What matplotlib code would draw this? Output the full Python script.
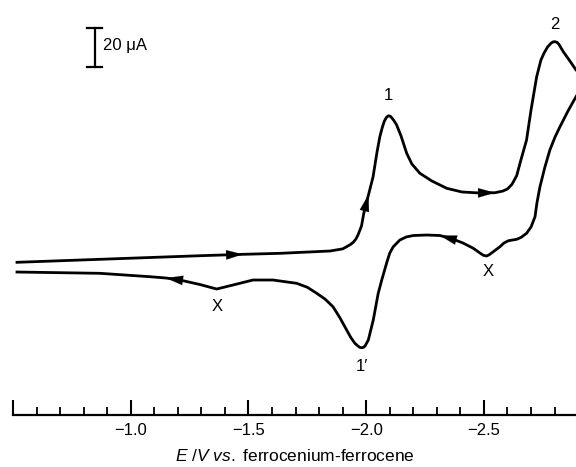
import matplotlib.pyplot as plt
import numpy as np
from matplotlib.ticker import MultipleLocator, FuncFormatter

plt.rcParams['font.family'] = ['Liberation Sans', 'DejaVu Sans']
plt.rcParams['mathtext.fontset'] = 'custom'
plt.rcParams['mathtext.it'] = 'Liberation Sans:italic'
plt.rcParams['mathtext.rm'] = 'Liberation Sans'

# forward sweep (upper trace), E in V vs Fc+/Fc, I in uA
E_fwd = [-0.517, -0.869, -1.294, -1.477, -1.634, -1.846, -1.900, -1.917, -1.932, -1.945,
         -1.956, -1.965, -1.980, -1.990, -2.003, -2.029, -2.046, -2.058, -2.068, -2.077,
         -2.086, -2.094, -2.102, -2.109, -2.119, -2.129, -2.148, -2.172, -2.194, -2.228,
         -2.279, -2.342, -2.407, -2.483, -2.547, -2.580, -2.600, -2.619, -2.639, -2.657,
         -2.681, -2.700, -2.724, -2.742, -2.756, -2.770, -2.785, -2.794, -2.802, -2.811,
         -2.819, -2.837, -2.865, -2.891, -2.933]
I_fwd = [1.41, 2.97, 4.84, 5.57, 6.09, 7.29, 8.40, 9.53, 10.60, 11.80,
         13.50, 15.60, 20.31, 27.08, 33.33, 45.83, 58.85, 66.82, 71.50, 74.90,
         76.90, 77.70, 77.50, 76.60, 75.00, 73.00, 67.18, 58.17, 52.60, 47.76,
         43.75, 39.95, 38.02, 37.50, 37.65, 38.50, 39.60, 42.00, 46.50, 54.68,
         65.10, 80.72, 98.07, 106.76, 110.50, 113.50, 115.50, 116.20, 116.30, 115.90,
         114.80, 111.09, 106.24, 101.56, 96.35]

# reverse sweep (lower trace)
E_rev = [-2.933, -2.891, -2.857, -2.823, -2.802, -2.780, -2.759, -2.738, -2.725, -2.717,
         -2.700, -2.681, -2.657, -2.639, -2.620, -2.603, -2.585, -2.568, -2.538, -2.522,
         -2.511, -2.497, -2.483, -2.455, -2.411, -2.370, -2.343, -2.313, -2.258, -2.200,
         -2.170, -2.143, -2.115, -2.100, -2.088, -2.066, -2.051, -2.030, -2.009, -1.995,
         -1.988, -1.981, -1.973, -1.965, -1.952, -1.935, -1.917, -1.889, -1.859, -1.825,
         -1.790, -1.750, -1.705, -1.604, -1.519, -1.434, -1.365, -1.294, -1.209, -1.150,
         -1.082, -0.869, -0.517]
I_rev = [96.35, 87.65, 80.20, 72.03, 66.66, 59.89, 51.04, 40.78, 32.29, 25.15,
         19.79, 16.51, 14.32, 13.38, 13.00, 12.60, 11.46, 9.53, 6.77, 5.30,
         4.69, 5.10, 6.25, 8.70, 11.46, 13.38, 14.43, 15.36, 15.62, 15.36,
         14.60, 13.02, 9.53, 6.20, 1.56, -7.81, -14.74, -28.64, -39.06, -42.18,
         -42.90, -43.07, -42.90, -42.18, -40.78, -37.80, -33.85, -27.60, -21.72, -17.71,
         -14.74, -11.60, -9.53, -7.81, -7.81, -10.42, -12.50, -10.16, -7.81, -6.77,
         -6.09, -4.32, -3.65]

# sweep direction arrows: (branch, E tail, E tip)
arrows = [('fwd', -1.405, -1.477), ('fwd', -1.992, -2.010), ('fwd', -2.475, -2.547),
          ('rev', -2.364, -2.313), ('rev', -1.209, -1.150)]

peak_labels = ['1', '2', '1\u2032', 'X', 'X']
peak_E = [-2.094, -2.802, -1.981, -1.366, -2.518]
peak_I = [88.5, 125.0, -53.0, -21.4, -3.5]

fig = plt.figure(figsize=(5.76, 4.67), dpi=100)
ax = fig.add_axes([13/576, 52/467, 1 - 13/576, 1 - 52/467])

ax.plot(E_fwd, I_fwd, color='black', lw=2.0, solid_joinstyle='round')
ax.plot(E_rev, I_rev, color='black', lw=2.0, solid_joinstyle='round')

for b, e0, e1 in arrows:
    if b == 'fwd':
        E, I = -np.array(E_fwd), np.array(I_fwd)
        i0, i1 = np.interp(-e0, E, I), np.interp(-e1, E, I)
    else:
        E, I = np.array(E_rev), np.array(I_rev)
        i0, i1 = np.interp(e0, E, I), np.interp(e1, E, I)
    ax.annotate('', xy=(e1, i1), xytext=(e0, i0),
                arrowprops=dict(arrowstyle='-|>,head_length=0.6,head_width=0.17',
                                mutation_scale=20, color='black', lw=0.1,
                                shrinkA=0, shrinkB=0))

for t, e, i in zip(peak_labels, peak_E, peak_I):
    ax.text(e, i, t, ha='center', va='center', fontsize=12)

# 20 uA scale bar
ax.plot([-0.848, -0.848], [103.3, 123.3], color='black', lw=1.6)
ax.plot([-0.816, -0.880], [123.3, 123.3], color='black', lw=1.6)
ax.plot([-0.816, -0.880], [103.3, 103.3], color='black', lw=1.6)
ax.text(-0.882, 114.5, '20 \u03bcA', ha='left', va='center', fontsize=12)

ax.set_xlim(-0.5, -2.891)
ax.set_ylim(-78.1, 138.0)

for s in ['left', 'right', 'top']:
    ax.spines[s].set_visible(False)
ax.spines['bottom'].set_linewidth(1.6)
ax.set_yticks([])

ax.xaxis.set_major_locator(MultipleLocator(0.5))
ax.xaxis.set_minor_locator(MultipleLocator(0.1))
ax.xaxis.set_major_formatter(FuncFormatter(
    lambda v, p: '' if v > -0.75 else ('%.1f' % v).replace('-', '\u2212')))
ax.tick_params(axis='x', which='major', direction='in', length=10.5, width=1.5,
               labelsize=12, pad=6)
ax.tick_params(axis='x', which='minor', direction='in', length=6, width=1.3)

ax.set_xlabel(r'$\mathit{E\ /V\ vs.}$ ferrocenium-ferrocene', fontsize=12.5, labelpad=7)

fig.savefig('out.png', dpi=100)
